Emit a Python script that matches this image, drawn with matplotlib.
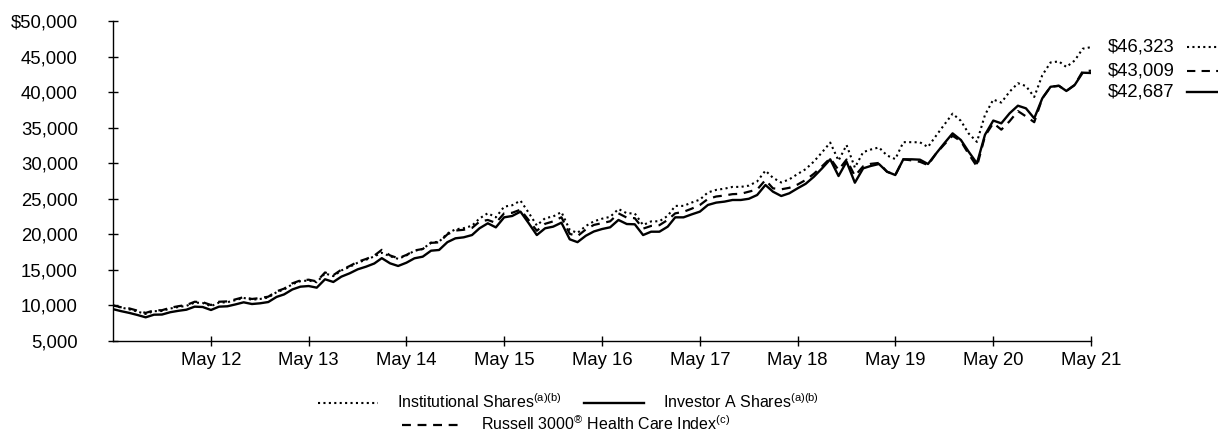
import pandas as pd
import matplotlib

matplotlib.use("Agg")
import matplotlib.pyplot as plt
import matplotlib.transforms as mtransforms
from matplotlib.lines import Line2D

plt.rcParams["font.family"] = ["Liberation Sans", "DejaVu Sans"]
plt.rcParams["mathtext.fontset"] = "custom"
plt.rcParams["mathtext.rm"] = "Liberation Sans"

# month-end values, May 2011 .. May 2021 (one row per year, May..Apr)
months = pd.date_range("2011-05-31", "2021-05-31", freq="ME")

investor_a = [
    9480, 9200, 8950, 8650, 8330, 8700, 8720, 9050, 9250, 9400, 9830, 9780,
    9360, 9830, 9880, 10150, 10440, 10200, 10300, 10480, 11200, 11550, 12250, 12640,
    12730, 12500, 13680, 13300, 14050, 14520, 15080, 15450, 15900, 16650, 15920, 15550,
    16010, 16630, 16860, 17700, 17800, 18900, 19440, 19580, 19900, 20850, 21550, 20980,
    22390, 22580, 23190, 21550, 19900, 20850, 21080, 21640, 19300, 18900, 19800, 20400,
    20750, 20990, 22020, 21450, 21410, 19900, 20370, 20370, 21080, 22390, 22390, 22800,
    23190, 24130, 24460, 24600, 24830, 24830, 25000, 25530, 26940, 26000, 25390, 25770,
    26470, 27100, 28100, 29300, 30550, 28200, 30220, 27260, 29280, 29610, 29890, 28810,
    28340, 30550, 30550, 30500, 29890, 31390, 32800, 34200, 33270, 31620, 29990, 34000,
    36000, 35610, 37020, 38090, 37720, 36310, 39120, 40750, 40890, 40160, 41000, 42730,
    42687,
]

institutional = [
    10000, 9710, 9450, 9130, 8800, 9190, 9220, 9570, 9780, 9940, 10400, 10350,
    9900, 10400, 10450, 10750, 11060, 10800, 10910, 11110, 11870, 12240, 12990, 13410,
    13510, 13260, 14510, 14120, 14920, 15420, 16010, 16420, 16900, 17400, 16920, 16550,
    17030, 17690, 17940, 18850, 18960, 20130, 20700, 20870, 21210, 22230, 22970, 22390,
    23890, 24090, 24740, 23020, 21250, 22270, 22510, 23130, 20630, 20200, 21170, 21830,
    22200, 22460, 23560, 22970, 22930, 21310, 21820, 21840, 22600, 24000, 24000, 24460,
    24880, 25890, 26250, 26420, 26670, 26670, 26850, 27440, 28960, 27950, 27290, 27730,
    28480, 29160, 30240, 31560, 32900, 30370, 32550, 29390, 31560, 31920, 32220, 31090,
    30580, 32960, 32960, 32940, 32280, 33900, 35420, 36970, 35960, 34180, 33000, 36790,
    38950, 38530, 40060, 41250, 40850, 39320, 42370, 44170, 44320, 43530, 44440, 46100,
    46323,
]

russell_hc = [
    10000, 9750, 9580, 9260, 8950, 9310, 9330, 9680, 9900, 10060, 10520, 10460,
    10060, 10520, 10570, 10860, 11170, 10910, 11040, 11230, 11980, 12360, 13110, 13520,
    13620, 13380, 14640, 14260, 15030, 15540, 16140, 16530, 17010, 17820, 17030, 16640,
    17100, 17730, 17940, 18800, 18870, 20000, 20530, 20640, 20900, 21790, 22020, 21610,
    22950, 23030, 23470, 21980, 20500, 21480, 21820, 22400, 20070, 19750, 20690, 21320,
    21580, 21830, 22950, 22350, 22270, 20800, 21180, 21290, 22030, 22950, 23170, 23600,
    24120, 24970, 25320, 25460, 25650, 25700, 26000, 26300, 27640, 26470, 26330, 26540,
    27000, 27640, 28520, 29590, 30700, 29050, 30520, 28210, 29570, 29910, 30040, 28810,
    28340, 30550, 30400, 30200, 29740, 31390, 32640, 33860, 33100, 31300, 29540, 33830,
    35640, 34720, 35910, 37330, 36590, 35770, 39120, 40750, 40890, 40160, 41000, 42940,
    43009,
]

tick_years = list(range(12, 22))
tick_dates = pd.to_datetime([f"20{y}-05-31" for y in tick_years])
tick_labels = [f"May {y}" for y in tick_years]

y_ticks = list(range(5000, 50001, 5000))
y_labels = ["$" + f"{v:,}" if v == 50000 else f"{v:,}" for v in y_ticks]

end_labels = ["$46,323", "$43,009", "$42,687"]
end_label_y = [46323, 43009, 40050]

DOT = (0, (1, 1.6))
DASH = (0, (4, 3))
FS = 13.3

fig = plt.figure(figsize=(12.18, 4.32), dpi=100)
ax = fig.add_axes([113 / 1218, 1 - 341 / 432, 978 / 1218, 320 / 432])

ax.plot(months, institutional, color="black", lw=1.5, ls=DOT)
ax.plot(months, russell_hc, color="black", lw=1.6, ls=DASH)
ax.plot(months, investor_a, color="black", lw=1.7, ls="-")

ax.set_xlim(months[0], months[-1])
ax.set_ylim(5000, 50000)
ax.set_xticks(tick_dates)
ax.set_xticklabels(tick_labels)
ax.set_yticks(y_ticks)
ax.set_yticklabels([s.replace("$", r"\$") for s in y_labels])

for side in ("top", "right"):
    ax.spines[side].set_visible(False)
for side in ("left", "bottom"):
    ax.spines[side].set_linewidth(1.0)
ax.tick_params(axis="both", direction="inout", length=7.6, width=1.0,
               labelsize=FS, color="black")
ax.tick_params(axis="y", pad=21.5)
ax.tick_params(axis="x", pad=4)

# end value labels with line samples on the right
trans = mtransforms.blended_transform_factory(ax.transAxes, ax.transData)
for lab, yv, ls in zip(end_labels, end_label_y, [DOT, DASH, "-"]):
    ax.text(1.0174, yv, lab.replace("$", r"\$"), transform=trans,
            ha="left", va="center", fontsize=FS)
    ax.plot([1.098, 1.135], [yv, yv], transform=trans, color="black",
            lw=1.7 if ls == "-" else 1.5, ls=ls, clip_on=False)

h_inst = Line2D([], [], color="black", lw=1.5, ls=DOT)
h_inv = Line2D([], [], color="black", lw=1.7, ls="-")
h_idx = Line2D([], [], color="black", lw=1.6, ls=DASH)

leg_kw = dict(frameon=False, fontsize=11.5, handlelength=3.75, handletextpad=1.2,
              columnspacing=1.4, borderpad=0, borderaxespad=0, loc="center left")
fig.legend(handles=[h_inst, h_inv],
           labels=[r"Institutional Shares$^{\mathrm{(a)(b)}}$",
                   r"Investor A Shares$^{\mathrm{(a)(b)}}$"],
           ncol=2, bbox_to_anchor=(318 / 1218, 1 - 402 / 432), **leg_kw)
fig.legend(handles=[h_idx],
           labels=[r"Russell 3000$^{\mathrm{®}}$ Health Care Index$^{\mathrm{(c)}}$"],
           bbox_to_anchor=(402 / 1218, 1 - 424 / 432), **leg_kw)

fig.savefig("out.png", dpi=100)
